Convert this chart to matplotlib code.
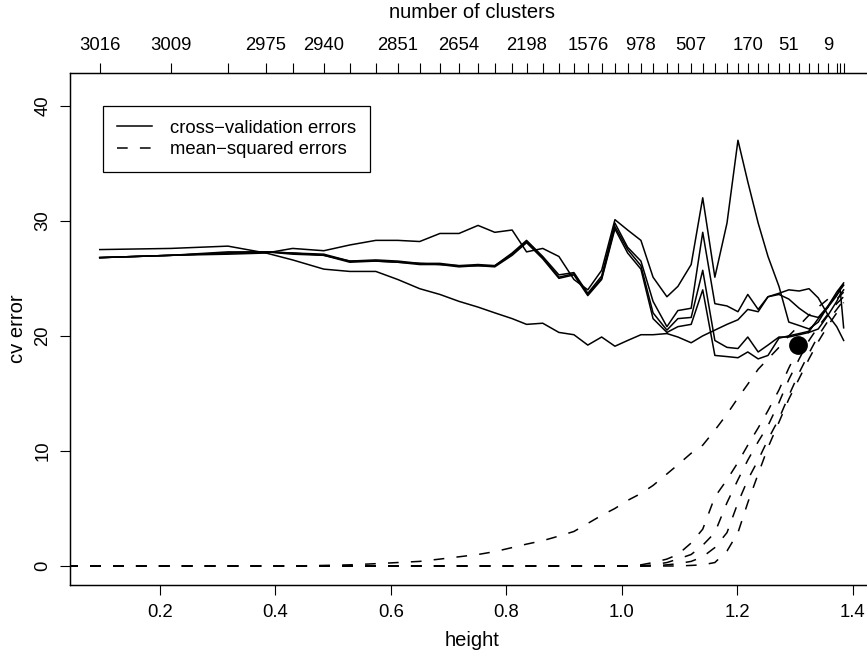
import matplotlib
matplotlib.use("Agg")
import matplotlib.pyplot as plt
import numpy as np

plt.rcParams['font.family'] = ['Liberation Sans', 'DejaVu Sans']

# heights at which the tree was cut (also the top-axis tick positions)
heights = [0.096, 0.219, 0.318, 0.384, 0.430, 0.484, 0.529, 0.574, 0.612, 0.650,
           0.685, 0.718, 0.751, 0.780, 0.810, 0.835, 0.863, 0.891, 0.917, 0.941,
           0.965, 0.988, 1.010, 1.033, 1.054, 1.078, 1.097, 1.120, 1.140, 1.161,
           1.182, 1.201, 1.218, 1.236, 1.253, 1.272, 1.289, 1.307, 1.324, 1.340,
           1.357, 1.372, 1.378, 1.384]

# labelled ticks on the top axis (index into heights, number of clusters)
cluster_idx = [0, 1, 3, 5, 8, 11, 15, 19, 23, 27, 32, 36, 40]
cluster_counts = ['3016', '3009', '2975', '2940', '2851', '2654', '2198',
                  '1576', '978', '507', '170', '51', '9']

# cross-validation errors
cv1 = [27.5, 27.6, 27.8, 27.2, 26.6, 25.8, 25.6, 25.6, 24.9, 24.1, 23.6, 23.0, 22.5, 22.0,
       21.5, 21.0, 21.1, 20.3, 20.1, 19.2, 19.9, 19.1, 19.6, 20.1, 20.1, 20.2, 19.9, 19.4,
       20.0, 20.5, 21.0, 21.4, 22.3, 22.1, 23.4, 23.7, 24.0, 23.9, 24.1, 23.3, 21.8, 20.8,
       20.2, 19.6]
cv2 = [26.8, 27.0, 27.1, 27.2, 27.6, 27.4, 27.9, 28.3, 28.3, 28.2, 28.9, 28.9, 29.6, 29.0,
       29.2, 27.3, 27.6, 26.9, 24.9, 24.0, 25.7, 30.1, 29.2, 28.3, 25.1, 23.4, 24.3, 26.2,
       32.0, 25.1, 29.8, 37.0, 33.4, 29.8, 26.9, 24.3, 21.2, 20.9, 20.6, 21.2, 22.6, 23.8,
       24.2, 24.6]
cv3 = [26.8, 27.0, 27.3, 27.3, 27.2, 27.1, 26.5, 26.6, 26.5, 26.3, 26.3, 26.1, 26.2, 26.1,
       27.2, 28.3, 26.9, 25.3, 25.5, 23.7, 25.2, 29.8, 27.7, 26.5, 23.0, 20.8, 22.2, 22.4,
       29.0, 22.8, 22.6, 22.1, 23.6, 22.3, 23.4, 23.6, 23.2, 22.4, 21.8, 21.6, 22.6, 23.6,
       24.0, 24.4]
cv4 = [26.8, 27.0, 27.2, 27.3, 27.2, 27.0, 26.5, 26.5, 26.4, 26.3, 26.2, 26.1, 26.1, 26.1,
       27.1, 28.2, 26.8, 25.1, 25.4, 23.6, 25.0, 29.5, 27.5, 26.1, 22.0, 20.5, 21.5, 21.6,
       25.7, 19.6, 19.0, 18.9, 19.9, 18.6, 19.2, 19.9, 19.9, 20.1, 20.3, 20.6, 21.8, 23.0,
       23.6, 24.0]
cv5 = [26.8, 27.0, 27.2, 27.3, 27.1, 27.0, 26.4, 26.5, 26.4, 26.2, 26.2, 26.0, 26.1, 26.0,
       27.0, 28.1, 26.7, 25.0, 25.3, 23.5, 24.9, 29.3, 27.2, 25.8, 21.5, 20.3, 20.8, 21.0,
       24.0, 18.3, 18.2, 18.1, 18.6, 18.0, 18.3, 19.8, 20.0, 20.2, 20.4, 21.5, 22.5, 23.5,
       24.0, 20.7]

# mean-squared errors (curves start from height 0)
mse_heights = [0.0] + heights
mse1 = [0.0] * 6 + [0.05, 0.1, 0.2, 0.3, 0.4, 0.6, 0.8, 1.0, 1.25, 1.6, 1.9, 2.2, 2.6, 3.0,
                    3.7, 4.4, 5.0, 5.7, 6.3, 7.0, 8.0, 8.8, 9.8, 10.5, 11.8, 13.2, 14.6, 15.8,
                    17.1, 18.0, 19.0, 20.0, 20.9, 21.8, 22.5, 23.2, 23.8, 24.1, 24.5]
mse2 = [0.0] * 24 + [0.1, 0.3, 0.6, 1.0, 2.0, 3.2, 6.0, 7.5, 9.0, 10.5, 12.0, 13.5, 15.3,
                     17.2, 19.0, 20.4, 21.5, 22.5, 23.2, 23.5, 23.8]
mse3 = [0.0] * 25 + [0.1, 0.3, 0.6, 1.0, 1.8, 2.9, 5.5, 7.5, 9.2, 10.8, 12.2, 14.2, 16.2,
                     18.0, 19.6, 20.8, 21.9, 22.8, 23.1, 23.4]
mse4 = [0.0] * 26 + [0.1, 0.2, 0.4, 0.8, 1.6, 2.9, 5.5, 7.5, 9.2, 11.0, 12.8, 14.8, 16.8,
                     18.5, 20.0, 21.3, 22.3, 22.7, 23.0]
mse5 = [0.0] * 28 + [0.05, 0.1, 0.3, 1.3, 2.9, 5.5, 8.0, 10.3, 12.5, 14.5, 16.3, 18.0,
                     19.5, 20.9, 22.0, 22.5, 22.9]

# chosen cut
opt_height = 1.305
opt_error = 19.2

fs = 13.3      # tick labels and legend
fs_lab = 14.5  # axis titles
fig = plt.figure(figsize=(8.67, 6.52), dpi=100)
ax = fig.add_axes([0.0807, 0.1028, 0.9267, 0.7853])

first = True
for cv in [cv1, cv2, cv3, cv4, cv5]:
    ax.plot(heights, cv, color='black', lw=1.1,
            label='cross\u2212validation errors' if first else None)
    first = False
first = True
for mse in [mse1, mse2, mse3, mse4, mse5]:
    ax.plot(mse_heights, mse, color='black', lw=1.1, ls=(0, (7, 8)),
            label='mean\u2212squared errors' if first else None)
    first = False

ax.plot([opt_height], [opt_error], 'o', color='black', ms=12.5, zorder=5)

span = heights[-1] - heights[0]
ax.set_xlim(heights[0] - 0.04 * span, heights[-1] + 0.04 * span)
ax.set_ylim(-1.65, 42.85)
ax.set_xticks([0.2, 0.4, 0.6, 0.8, 1.0, 1.2, 1.4])
ax.set_xticklabels(['0.2', '0.4', '0.6', '0.8', '1.0', '1.2', '1.4'])
ax.set_yticks([0, 10, 20, 30, 40])
ax.set_yticklabels(['0', '10', '20', '30', '40'], rotation=90, va='center')
ax.tick_params(direction='out', length=7.5, width=0.8, labelsize=fs, pad=6)
for s in ax.spines.values():
    s.set_linewidth(0.9)

ax.set_xlabel('height', fontsize=fs_lab, va='center')
ax.xaxis.set_label_coords(0.5, -0.109)
ax.set_ylabel('cv error', fontsize=fs_lab, va='center')
ax.yaxis.set_label_coords(-0.0647, 0.5)

ax2 = ax.twiny()
ax2.set_xlim(ax.get_xlim())
top_text = [''] * len(heights)
for i, t in zip(cluster_idx, cluster_counts):
    top_text[i] = t
ax2.set_xticks(heights)
ax2.set_xticklabels(top_text)
ax2.tick_params(direction='out', length=7.5, width=0.8, labelsize=fs, pad=6)
ax2.set_xlabel('number of clusters', fontsize=fs_lab, va='center')
ax2.xaxis.set_label_coords(0.5, 1.119)
for s in ax2.spines.values():
    s.set_linewidth(0.9)

leg = ax.legend(loc='upper left', bbox_to_anchor=(0.041, 0.9355), fontsize=fs,
                frameon=True, fancybox=False, edgecolor='black', framealpha=1,
                borderaxespad=0, handlelength=1.9, handletextpad=1.0,
                labelspacing=0.25, borderpad=0.75)
leg.get_frame().set_linewidth(0.9)

fig.savefig('out.png', dpi=100)
